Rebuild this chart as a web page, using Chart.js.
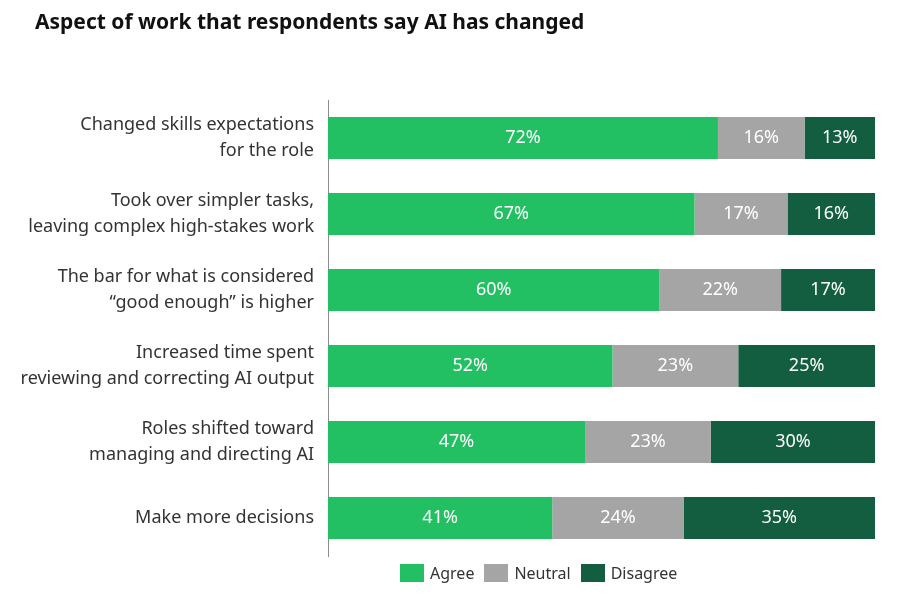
<!DOCTYPE html>
<html>
<head>
<meta charset="utf-8">
<script src="https://cdn.jsdelivr.net/npm/chart.js@4"></script>
<style>
  body { margin: 0; background: #fff; font-family: "Noto Sans", sans-serif; }
  #wrap { position: relative; width: 900px; height: 596px; }
  h1 { position: absolute; left: 35px; top: 7px; margin: 0; font-size: 21px; font-weight: bold; color: #111; }
  #legend { position: absolute; left: 400px; top: 562px; display: flex; align-items: center; font-size: 16px; color: #333; }
  #legend span.box { display: inline-block; width: 24px; height: 18px; margin-right: 6px; }
  #legend span.item { display: flex; align-items: center; margin-right: 10px; }
</style>
</head>
<body>
<div id="wrap">
  <h1>Aspect of work that respondents say AI has changed</h1>
  <canvas id="grafico" width="900" height="596"></canvas>
  <div id="legend"></div>
</div>
<script>
const categorias = [
  ['Changed skills expectations', 'for the role'],
  ['Took over simpler tasks,', 'leaving complex high-stakes work'],
  ['The bar for what is considered', '\u201Cgood enough\u201D is higher'],
  ['Increased time spent', 'reviewing and correcting AI output'],
  ['Roles shifted toward', 'managing and directing AI'],
  'Make more decisions'
];
const agree = [72, 67, 60, 52, 47, 41];
const neutral = [16, 17, 22, 23, 23, 24];
const disagree = [13, 16, 17, 25, 30, 35];

const series = [
  { label: 'Agree', values: agree, color: '#22c062' },
  { label: 'Neutral', values: neutral, color: '#a5a5a5' },
  { label: 'Disagree', values: disagree, color: '#135e40' }
];

// rows are scaled so each bar fills the full width (published figures are rounded)
const totales = agree.map((v, i) => v + neutral[i] + disagree[i]);

const etiquetas = {
  id: 'etiquetas',
  afterDatasetsDraw(chart) {
    const ctx = chart.ctx;
    ctx.save();
    ctx.fillStyle = '#fff';
    ctx.font = '18px "Noto Sans", sans-serif';
    ctx.textAlign = 'center';
    ctx.textBaseline = 'middle';
    chart.data.datasets.forEach((ds, d) => {
      chart.getDatasetMeta(d).data.forEach((bar, i) => {
        const x = (bar.x + bar.base) / 2;
        ctx.fillText(series[d].values[i] + '%', x, bar.y);
      });
    });
    ctx.restore();
  }
};

new Chart(document.getElementById('grafico'), {
  type: 'bar',
  data: {
    labels: categorias,
    datasets: series.map(s => ({
      label: s.label,
      data: s.values.map((v, i) => v / totales[i] * 100),
      backgroundColor: s.color,
      barPercentage: 0.55,
      categoryPercentage: 1
    }))
  },
  options: {
    indexAxis: 'y',
    responsive: false,
    animation: false,
    layout: { padding: { left: 0, right: 25, top: 100, bottom: 40 } },
    plugins: { legend: { display: false }, tooltip: { enabled: false } },
    scales: {
      x: { stacked: true, min: 0, max: 100, display: false },
      y: {
        stacked: true,
        grid: { display: false },
        border: { display: true, color: '#8c8c8c', width: 1 },
        ticks: {
          color: '#333',
          padding: 6,
          font: { family: '"Noto Sans", sans-serif', size: 18, lineHeight: 1.45 }
        },
        afterFit(scale) { scale.width = 328; }
      }
    }
  },
  plugins: [etiquetas]
});

const leyenda = document.getElementById('legend');
series.forEach(s => {
  const item = document.createElement('span');
  item.className = 'item';
  item.innerHTML = '<span class="box" style="background:' + s.color + '"></span>' + s.label;
  leyenda.appendChild(item);
});
</script>
</body>
</html>
